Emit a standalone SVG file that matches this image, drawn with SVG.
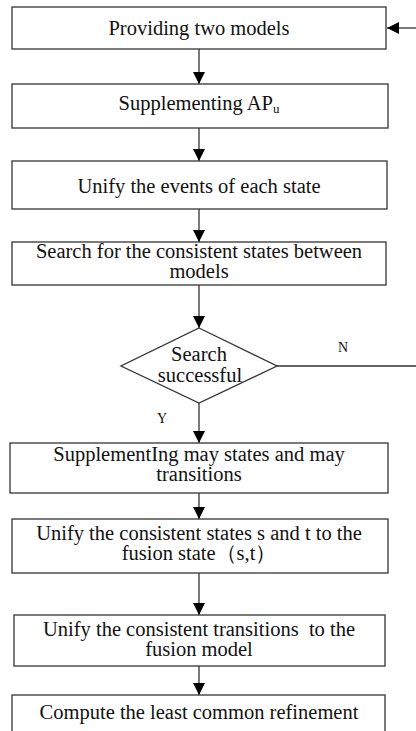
<svg xmlns="http://www.w3.org/2000/svg" width="416" height="731" viewBox="0 0 416 731">
<style>
  .box{fill:#fff;stroke:#333;stroke-width:1.3}
  .t{font-size:20.5px;fill:#111;text-anchor:middle}
  .lbl{font-size:14px;fill:#111;text-anchor:middle}
  .ln{stroke:#333;stroke-width:1.3;fill:none}
</style>
<defs>
  <marker id="ah" markerUnits="userSpaceOnUse" markerWidth="12" markerHeight="12" viewBox="0 0 12 12" refX="12" refY="6" orient="auto">
    <path d="M0,0 L12,6 L0,12 Z" fill="#000"/>
  </marker>
</defs>
<rect width="416" height="731" fill="#fff"/>
<g id="connectors" font-family="'Liberation Serif', 'DejaVu Serif', serif">
  <line class="ln" x1="416" y1="28" x2="387" y2="28" marker-end="url(#ah)"/>
  <line class="ln" x1="199" y1="49" x2="199" y2="84" marker-end="url(#ah)"/>
  <line class="ln" x1="199" y1="128" x2="199" y2="161" marker-end="url(#ah)"/>
  <line class="ln" x1="199" y1="209" x2="199" y2="242" marker-end="url(#ah)"/>
  <line class="ln" x1="199" y1="285" x2="199" y2="328" marker-end="url(#ah)"/>
  <line class="ln" x1="277" y1="366" x2="416" y2="366"/>
  <line class="ln" x1="199" y1="403" x2="199" y2="443" marker-end="url(#ah)"/>
  <line class="ln" x1="199" y1="493" x2="199" y2="519" marker-end="url(#ah)"/>
  <line class="ln" x1="199" y1="573" x2="199" y2="615" marker-end="url(#ah)"/>
  <line class="ln" x1="199" y1="666" x2="199" y2="695" marker-end="url(#ah)"/>
  <text class="lbl" x="343" y="352">N</text>
  <text class="lbl" x="162" y="423">Y</text>
</g>
<g font-family="'Liberation Serif', 'DejaVu Serif', serif">
<g id="n1">
  <rect class="box" x="12" y="7" width="374" height="42"/>
  <text class="t" x="199" y="35">Providing two models</text>
</g>
<g id="n2">
  <rect class="box" x="12" y="84" width="376" height="44"/>
  <text class="t" x="199" y="110">Supplementing AP<tspan font-size="13" dy="3">u</tspan></text>
</g>
<g id="n3">
  <rect class="box" x="12" y="161" width="375" height="48"/>
  <text class="t" x="199" y="193">Unify the events of each state</text>
</g>
<g id="n4">
  <rect class="box" x="12" y="242" width="374" height="43"/>
  <text class="t" x="199" y="258">Search for the consistent states between</text>
  <text class="t" x="199" y="278">models</text>
</g>
<g id="n5">
  <polygon class="box" points="199,328 277,366 199,403 121,366"/>
  <text class="t" x="199" y="361">Search</text>
  <text class="t" x="200" y="382">successful</text>
</g>
<g id="n6">
  <rect class="box" x="10" y="443" width="378" height="50"/>
  <text class="t" x="199" y="461">SupplementIng may states and may</text>
  <text class="t" x="199" y="481">transitions</text>
</g>
<g id="n7">
  <rect class="box" x="12" y="519" width="376" height="54"/>
  <text class="t" x="199" y="540">Unify the consistent states s and t to the</text>
  <text class="t" x="199" y="560">fusion state（s,t）</text>
</g>
<g id="n8">
  <rect class="box" x="14" y="615" width="371" height="51"/>
  <text class="t" x="199" y="636" xml:space="preserve">Unify the consistent transitions  to the</text>
  <text class="t" x="199" y="656">fusion model</text>
</g>
<g id="n9">
  <rect class="box" x="12" y="695" width="373" height="50"/>
  <text class="t" x="199" y="719">Compute the least common refinement</text>
</g>
</g>
</svg>
